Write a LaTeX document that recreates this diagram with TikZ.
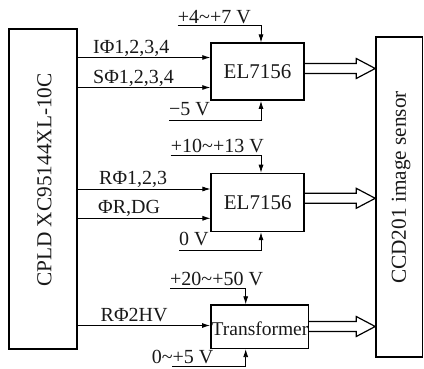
\documentclass[tikz,border=0pt]{standalone}
\usepackage{fontspec}
\setmainfont{Liberation Serif}
\usetikzlibrary{arrows.meta,calc}
\begin{document}
\begin{tikzpicture}[x=1pt,y=-1pt,
  blk/.style={draw=black,line width=1.5pt,inner sep=0pt,fill=none},
  sig/.style={draw=black,line width=0.8pt,-{Latex[length=8pt,width=5pt]}},
  supply/.style={draw=black,line width=0.8pt,-{Latex[length=8pt,width=5pt]}},
  hollow/.style={draw=black,line width=1.2pt,line join=miter},
  lbl/.style={inner sep=0pt,font=\fontsize{20}{20}\selectfont,text=black!90},
  big/.style={inner sep=0pt,font=\fontsize{21}{21}\selectfont,text=black!90},
  vert/.style={inner sep=0pt,rotate=90,font=\fontsize{21.3}{21.3}\selectfont,text=black!90}]
\useasboundingbox (0,0) rectangle (424,369);

% blocks
\node[blk,minimum width=68pt,minimum height=320pt] (cpld) at (43,189) {};
\node[vert] (cpldtxt) at (44.5,180) {CPLD XC95144XL-10C};
\node[blk,minimum width=93pt,minimum height=57pt,big] (e1) at (257.5,71.7) {EL7156};
\node[blk,minimum width=93pt,minimum height=58pt,big] (e2) at (257.7,202.5) {EL7156};
\node[blk,minimum width=97.5pt,minimum height=43.3pt] (tr) at (259.5,326.7) {};
\node[lbl,anchor=base,font=\fontsize{19.5}{19.5}\selectfont] (trtxt) at (260,335) {Transformer};
\node[blk,minimum width=46.5pt,minimum height=320pt] (ccd) at (399.25,197) {};
\node[vert] (ccdtxt) at (401,187.5) {CCD201 image sensor};

% signal lines
\coordinate (a1) at (cpld.east |- 0,57.5);
\coordinate (a2) at (cpld.east |- 0,87.5);
\coordinate (a3) at (cpld.east |- 0,189);
\coordinate (a4) at (cpld.east |- 0,218.3);
\coordinate (a5) at (cpld.east |- 0,325.5);
\draw[sig] (a1) -- (e1.west |- a1);
\draw[sig] (a2) -- (e1.west |- a2);
\draw[sig] (a3) -- (e2.west |- a3);
\draw[sig] (a4) -- (e2.west |- a4);
\draw[sig] (a5) -- (tr.west |- a5);
\node[lbl,anchor=base west] (l1) at (93,54) {IΦ1,2,3,4};
\node[lbl,anchor=base west] (l2) at (93,83.5) {SΦ1,2,3,4};
\node[lbl,anchor=base west] (l3) at (99,185) {RΦ1,2,3};
\node[lbl,anchor=base west] (l4) at (98,214) {ΦR,DG};
\node[lbl,anchor=base west] (l5) at (100.5,321.7) {RΦ2HV};

% supplies
\node[lbl,anchor=base west] (v1) at (177.7,23.5) {+4\textasciitilde+7 V};
\coordinate (v1s) at (177.7,25);
\coordinate (v1c) at (261,25);
\draw[supply] (v1s) -- (v1c) -- (v1c |- e1.north);

\node[lbl,anchor=base west] (v2) at (169,116) {\char"2212 5 V};
\coordinate (v2s) at (169,120);
\coordinate (v2c) at (261,120);
\draw[supply] (v2s) -- (v2c) -- (v2c |- e1.south);

\node[lbl,anchor=base west] (v3) at (170.7,153) {+10\textasciitilde+13 V};
\coordinate (v3s) at (170.7,155.5);
\coordinate (v3c) at (261,155.5);
\draw[supply] (v3s) -- (v3c) -- (v3c |- e2.north);

\node[lbl,anchor=base west] (v4) at (179,246) {0 V};
\coordinate (v4s) at (179,250);
\coordinate (v4c) at (261,250);
\draw[supply] (v4s) -- (v4c) -- (v4c |- e2.south);

\node[lbl,anchor=base west] (v5) at (170,286) {+20\textasciitilde+50 V};
\coordinate (v5s) at (170,288.3);
\coordinate (v5c) at (245.7,288.3);
\draw[supply] (v5s) -- (v5c) -- (v5c |- tr.north);

\node[lbl,anchor=base west] (v6) at (151.7,363.5) {0\textasciitilde+5 V};
\coordinate (v6s) at (172,366.7);
\coordinate (v6c) at (245.7,366.7);
\draw[supply] (v6s) -- (v6c) -- (v6c |- tr.south);

% hollow arrows
\foreach \src/\cy/\nm in {e1/68.5/h1, e2/198.3/h2, tr/326.5/h3}{
  \coordinate (\nm s) at (\src.east |- 0,\cy);
  \coordinate (\nm t) at (ccd.west |- 0,\cy);
  \draw[hollow] ($(\nm s)+(0,-5)$) -- ($(\nm t)+(-19,-5)$) -- ($(\nm t)+(-19,-10)$)
     -- (\nm t) -- ($(\nm t)+(-19,10)$) -- ($(\nm t)+(-19,5)$) -- ($(\nm s)+(0,5)$);
}
\end{tikzpicture}
\end{document}
